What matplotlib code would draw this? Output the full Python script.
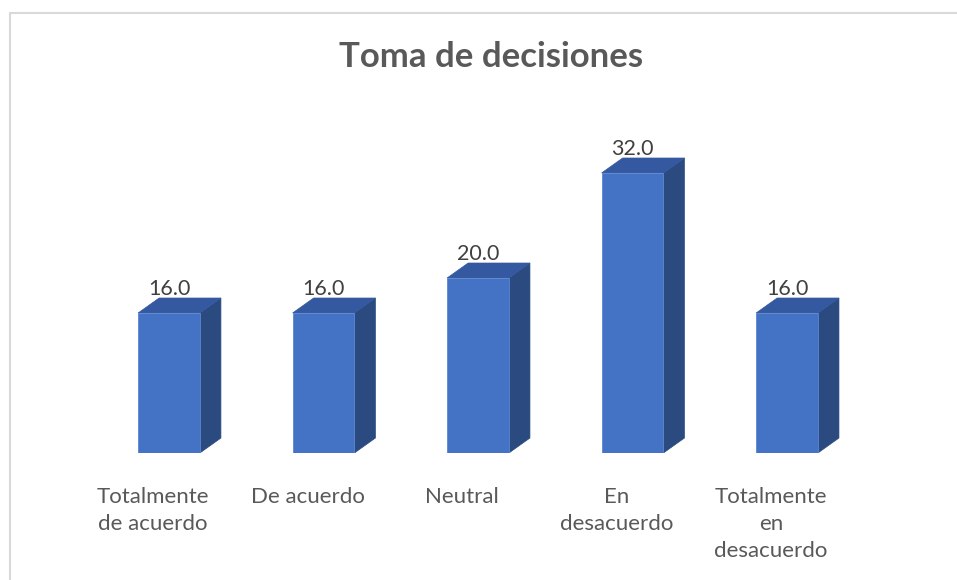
import matplotlib
matplotlib.use("Agg")
import matplotlib.pyplot as plt
from matplotlib.patches import Polygon, Rectangle
import numpy as np

# data
categories = ["Totalmente\nde acuerdo", "De acuerdo", "Neutral",
              "En\ndesacuerdo", "Totalmente\nen\ndesacuerdo"]
values = [16.0, 16.0, 20.0, 32.0, 16.0]
title = "Toma de decisiones"

# style
front_col = "#4472C4"
top_col = "#3459A0"
side_col = "#2A4A80"
text_col = "#595959"
bar_w = 0.40
depth_x = 0.136
depth_y = 1.71

plt.rcParams["font.family"] = ["Lato", "DejaVu Sans"]

fig = plt.figure(figsize=(9.57, 5.80), dpi=100)
ax = fig.add_axes([0.01515, 0.219, 0.9687, 0.6086])
ax.set_xlim(-1, 5)
ax.set_ylim(0, 40.34)
ax.axis("off")

x = np.arange(len(values))
ax.bar(x, values, width=bar_w, color=front_col, edgecolor="#5B87D0",
       linewidth=0.6, zorder=3)

for xi, v in zip(x, values):
    r = xi + bar_w / 2
    l = xi - bar_w / 2
    side = [(r, 0), (r + depth_x, depth_y), (r + depth_x, v + depth_y), (r, v)]
    top = [(l, v), (l + depth_x, v + depth_y), (r + depth_x, v + depth_y), (r, v)]
    ax.add_patch(Polygon(side, closed=True, facecolor=side_col,
                         edgecolor=side_col, linewidth=0.5, zorder=2))
    ax.add_patch(Polygon(top, closed=True, facecolor=top_col,
                         edgecolor=top_col, linewidth=0.5, zorder=2))
    ax.annotate(f"{v:.1f}", (xi, v), xytext=(0, 18 * 0.72),
                textcoords="offset points", ha="center", va="baseline",
                fontsize=15.5, color="#404040")

for xi, lab in zip(x, categories):
    ax.annotate(lab, (xi, 0), xytext=(-16 * 0.72, -34 * 0.72),
                textcoords="offset points", ha="center", va="top",
                fontsize=16, color=text_col, linespacing=1.45)

fig.text(0.513, 0.885, title, ha="center", va="baseline", fontsize=25,
         fontweight="bold", color=text_col)

# chart border
fig.patches.append(Rectangle((9.5 / 957, -0.1), 2, (580 - 13.5) / 580 + 0.1,
                             transform=fig.transFigure, fill=False,
                             edgecolor="#d9d9d9", linewidth=1.5))

fig.savefig("out.png", dpi=100)
